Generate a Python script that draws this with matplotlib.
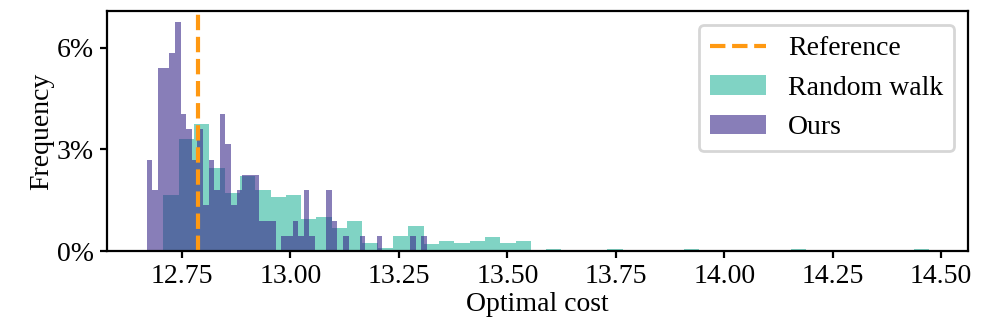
import matplotlib
matplotlib.use("Agg")
import matplotlib.pyplot as plt
import numpy as np
from matplotlib.ticker import PercentFormatter

plt.rcParams['font.family'] = 'serif'
plt.rcParams['font.serif'] = ['Liberation Serif', 'DejaVu Serif']
plt.rcParams['font.size'] = 10

# histogram ranges (optimal cost) and per-bin frequency (%), 50 bins each
rw_range = (12.707, 14.472)
rw_freq = [1.65, 3.3, 3.75, 2.45, 1.72, 2.22, 1.8, 1.6, 1.65, 0.95,
           1.0, 0.67, 0.89, 0.25, 0.1, 0.45, 0.75, 0.2, 0.3, 0.25,
           0.3, 0.4, 0.25, 0.3, 0, 0.05, 0, 0, 0, 0.05,
           0, 0, 0, 0, 0.05, 0, 0, 0, 0, 0,
           0, 0.05, 0, 0, 0, 0, 0, 0, 0, 0.05]

ours_range = (12.669, 13.315)
ours_freq = [2.7, 1.8, 5.4, 5.4, 5.85, 6.75, 4.05, 3.6, 2.7, 3.6,
             1.35, 2.7, 1.8, 4.05, 3.15, 1.35, 1.8, 2.25, 2.25, 2.25,
             0.9, 0.9, 0.9, 0, 0.45, 0.45, 0.9, 0.45, 1.8, 0.45,
             0, 0, 1.8, 0.9, 0, 0.45, 0, 0, 0.45, 0,
             0, 0.45, 0, 0, 0, 0, 0, 0.45, 0, 0.45]

reference_cost = 12.786

rw_edges = np.linspace(rw_range[0], rw_range[1], len(rw_freq) + 1)
ours_edges = np.linspace(ours_range[0], ours_range[1], len(ours_freq) + 1)

fig, ax = plt.subplots(figsize=(4.985, 1.63), dpi=200)
fig.subplots_adjust(left=0.1073, right=0.9709, bottom=0.230, top=0.9663)

ref = ax.axvline(reference_cost, color='#ff9912', ls='--', lw=1.5, label='Reference')
_, _, p1 = ax.hist(rw_edges[:-1], bins=rw_edges, weights=rw_freq,
                   color='#2bb79d', alpha=0.6, label='Random walk')
_, _, p2 = ax.hist(ours_edges[:-1], bins=ours_edges, weights=ours_freq,
                   color='#39288a', alpha=0.6, label='Ours')

ax.set_xlim(12.577, 14.562)
ax.set_yticks([0, 3, 6])
ax.yaxis.set_major_formatter(PercentFormatter(xmax=100, decimals=0))
ax.tick_params(length=2.5, pad=2.3)
ax.set_xlabel('Optimal cost', labelpad=1)
ax.set_ylabel('Frequency', labelpad=1)
ax.legend(handles=[ref, p1[0], p2[0]], loc='upper right')

fig.savefig('out.png', dpi=200)
